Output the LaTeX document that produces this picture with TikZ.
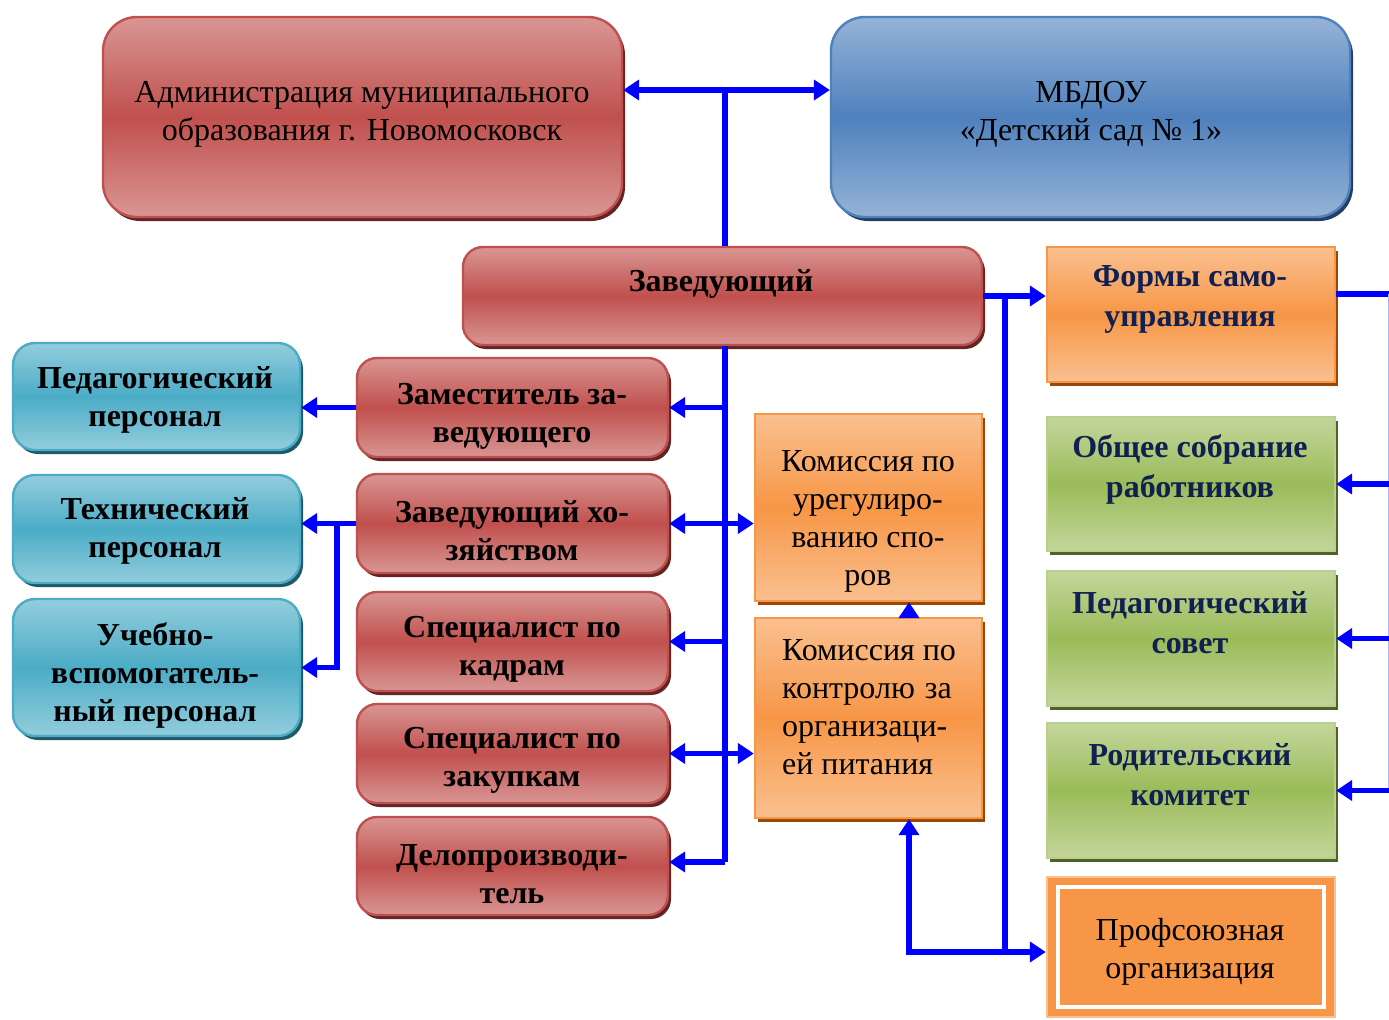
\documentclass[tikz,border=0pt]{standalone}
\usepackage{fontspec}
\setmainfont{Liberation Serif}
\usetikzlibrary{fit,shadows,arrows.meta}
\definecolor{redL}{HTML}{D99694}
\definecolor{redD}{HTML}{C0504D}
\definecolor{redS}{HTML}{632523}
\definecolor{bluL}{HTML}{95B3D7}
\definecolor{bluD}{HTML}{4F81BD}
\definecolor{bluS}{HTML}{243F60}
\definecolor{cyaL}{HTML}{93CDDD}
\definecolor{cyaD}{HTML}{4BACC6}
\definecolor{cyaS}{HTML}{215968}
\definecolor{orgL}{HTML}{FAC090}
\definecolor{orgD}{HTML}{F79646}
\definecolor{orgS}{HTML}{984807}
\definecolor{grnL}{HTML}{C3D69B}
\definecolor{grnD}{HTML}{9BBB59}
\definecolor{grnS}{HTML}{4F6228}
\definecolor{navy}{RGB}{16,32,80}
\tikzset{
  boxbase/.style={inner sep=0pt, line width=1.2pt},
  redbox/.style={boxbase, rounded corners=10pt, draw=redD, top color=redL, bottom color=redL, middle color=redD,
     drop shadow={shadow xshift=1.5pt, shadow yshift=-2pt, fill=redS, opacity=1}},
  bigred/.style={redbox, rounded corners=17pt},
  blubox/.style={boxbase, rounded corners=17pt, draw=bluD, top color=bluL, bottom color=bluL, middle color=bluD,
     drop shadow={shadow xshift=1.5pt, shadow yshift=-2pt, fill=bluS, opacity=1}},
  cyabox/.style={boxbase, rounded corners=11pt, draw=cyaD, top color=cyaL, bottom color=cyaL, middle color=cyaD,
     drop shadow={shadow xshift=1.5pt, shadow yshift=-2pt, fill=cyaS, opacity=1}},
  orgbox/.style={boxbase, draw=orgD, top color=orgL, bottom color=orgL, middle color=orgD,
     drop shadow={shadow xshift=1.5pt, shadow yshift=-2pt, fill=orgS, opacity=1}},
  grnbox/.style={boxbase, draw=grnD!70, top color=grnL, bottom color=grnL, middle color=grnD,
     drop shadow={shadow xshift=1.5pt, shadow yshift=-2pt, fill=grnS, opacity=1}},
  profbox/.style={boxbase, draw=orgL, fill=orgD},
  txt/.style={align=center, inner sep=0pt, font=\fontsize{16}{19}\selectfont},
  btxt/.style={txt, font=\fontsize{16}{19}\selectfont\bfseries},
  gtxt/.style={align=center, inner sep=0pt, text=navy, font=\fontsize{16}{20}\selectfont\bfseries},
  ln/.style={draw=blue, line width=2.6pt},
  arr/.style={ln, -{Triangle[length=8pt,width=10pt]}},
  arr2/.style={ln, {Triangle[length=8pt,width=10pt]}-{Triangle[length=8pt,width=10pt]}},
}
\begin{document}
\begin{tikzpicture}[x=0.5pt,y=-0.5pt]
\useasboundingbox (0,0) rectangle (1389,1019);
\fill[white] (0,0) rectangle (1389,1019);
% boxes
\node[bigred, fit={(103,17) (622,217)}] (adm) {};
\node[blubox, fit={(831,17) (1350,217)}] (mbdou) {};
\node[redbox, fit={(463,247) (982,345)}] (zav) {};
\node[redbox, fit={(357,358) (668,457)}] (zam) {};
\node[redbox, fit={(357,474) (668,573)}] (hoz) {};
\node[redbox, fit={(357,592) (668,691)}] (kadr) {};
\node[redbox, fit={(357,704) (668,803)}] (zak) {};
\node[redbox, fit={(357,817) (668,915)}] (delo) {};
\node[cyabox, fit={(13,343) (300,450)}] (ped) {};
\node[cyabox, fit={(13,475) (300,583)}] (tech) {};
\node[cyabox, fit={(13,599) (300,736)}] (ucheb) {};
\node[orgbox, fit={(755,414) (982,601)}] (kom1) {};
\node[orgbox, fit={(755,618) (982,818)}] (kom2) {};
\node[orgbox, fit={(1047,247) (1335,382)}] (forms) {};
\node[grnbox, fit={(1047,417) (1335,551)}] (obsh) {};
\node[grnbox, fit={(1047,571) (1335,706)}] (psov) {};
\node[grnbox, fit={(1047,723) (1335,858)}] (rod) {};
\node[profbox, fit={(1047,877) (1335,1017)}] (prof) {};
\node[draw=white, line width=1.6pt, inner sep=0pt, fit={(1058,887) (1324,1007)}] (profin) {};
% texts
\node[txt] (adm-t) at (362,114) {Администрация муниципального\\образования г. Новомосковск};
\node[txt] (mbdou-t) at (1091,114) {МБДОУ\\«Детский сад № 1»};
\node[btxt] (zav-t) at (721,284) {Заведующий};
\node[btxt] (zam-t) at (512,416) {Заместитель за-\\ведующего};
\node[btxt] (hoz-t) at (512,531) {Заведующий хо-\\зяйством};
\node[btxt] (kadr-t) at (512,649) {Специалист по\\кадрам};
\node[btxt] (zak-t) at (512,760) {Специалист по\\закупкам};
\node[btxt] (delo-t) at (512,874) {Делопроизводи-\\тель};
\node[btxt] (ped-t) at (155,400) {Педагогический\\персонал};
\node[btxt] (tech-t) at (155,531) {Технический\\персонал};
\node[btxt] (ucheb-t) at (155,675) {Учебно-\\вспомогатель-\\ный персонал};
\node[txt] (kom1-t) at (868,521) {Комиссия по\\урегулиро-\\ванию спо-\\ров};
\node[txt, align=left] (kom2-t) at (869,707) {Комиссия по\\контролю\hspace{5pt}за\\организаци-\\ей питания};
\node[gtxt] (forms-t) at (1190,299) {Формы само-\\управления};
\node[gtxt] (obsh-t) at (1190,469) {Общее собрание\\работников};
\node[gtxt] (psov-t) at (1190,623) {Педагогический\\совет};
\node[gtxt] (rod-t) at (1190,775) {Родительский\\комитет};
\node[txt] (prof-t) at (1190,952) {Профсоюзная\\организация};
% junctions
\coordinate (jt) at (725,90);
\coordinate (jb) at (725,862);
\coordinate (jl) at (337,662);
\coordinate (jrb) at (1005,952);
\coordinate (ka) at (909,952);
\coordinate (fr) at (1391,294);
% connectors
\draw[arr] (jt) -- (jt -| adm.east);
\draw[arr] (jt) -- (jt -| mbdou.west);
\draw[ln] (jt) -- (jt |- zav.north);
\draw[ln] (jt |- zav.south) -- (jb);
\draw[arr] (jb) -- (jb -| delo.east);
\draw[arr] (zam.east -| jt) -- (zam.east);
\draw[arr2] (hoz.east) -- (hoz.east -| kom1.west);
\draw[arr] (kadr.east -| jt) -- (kadr.east);
\draw[arr2] (zak.east) -- (zak.east -| kom2.west);
\draw[arr] (zam.west) -- (zam.west -| ped.east);
\draw[arr] (hoz.west) -- (hoz.west -| tech.east);
\draw[arr] (hoz.west -| jl) -- (jl |- ucheb.east) -- (ucheb.east);
\draw[arr] (zav.east) -- (zav.east -| forms.west);
\draw[ln] (zav.east -| jrb) -- (jrb);
\draw[arr] (jrb) -- (jrb -| prof.west);
\draw[arr] (jrb) -- (ka) -- (ka |- kom2.south);
\draw[arr] (ka |- kom2.north) -- (ka |- kom1.south);
\draw[ln] (fr -| forms.east) -- (fr);
\draw[ln, draw=blue!30] (fr) -- (fr |- rod.east);
\draw[arr] (obsh.east -| fr) -- (obsh.east);
\draw[arr] (psov.east -| fr) -- (psov.east);
\draw[arr] (rod.east -| fr) -- (rod.east);
\end{tikzpicture}
\end{document}
